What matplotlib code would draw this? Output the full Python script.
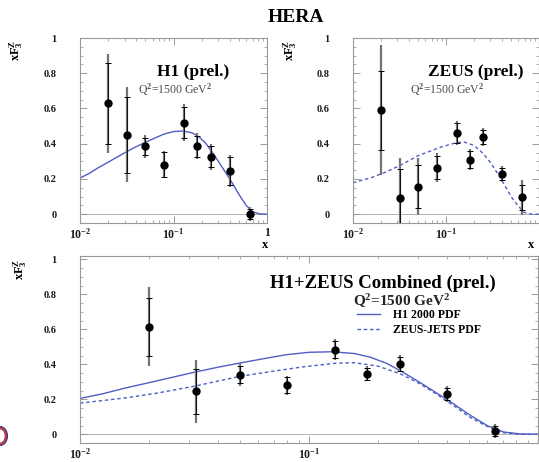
"""
HERA xF3 structure function at Q^2 = 1500 GeV^2: H1, ZEUS and combined
"""

import numpy as np
import matplotlib
matplotlib.use('Agg')
import matplotlib.pyplot as plt
from matplotlib.ticker import MultipleLocator, LogLocator, NullFormatter
from matplotlib.patches import Ellipse

# Bjorken-x bins shared by all three data sets
x_bins = [0.02, 0.032, 0.05, 0.08, 0.13, 0.18, 0.25, 0.40, 0.65]

h1_val = [0.63, 0.45, 0.385, 0.282, 0.52, 0.386, 0.326, 0.244, 0.0]
h1_stat = [0.23, 0.215, 0.05, 0.07, 0.09, 0.06, 0.06, 0.08, 0.03]
h1_tot = [0.28, 0.27, 0.065, 0.078, 0.105, 0.075, 0.075, 0.09, 0.04]

zeus_val = [0.59, 0.09, 0.157, 0.265, 0.46, 0.31, 0.439, 0.227, 0.095]
zeus_stat = [0.225, 0.165, 0.12, 0.066, 0.055, 0.05, 0.04, 0.035, 0.07]
zeus_tot = [0.37, 0.23, 0.16, 0.085, 0.07, 0.06, 0.05, 0.047, 0.1]

comb_val = [0.615, 0.246, 0.341, 0.28, 0.484, 0.347, 0.404, 0.232, 0.019]
comb_stat = [0.165, 0.13, 0.05, 0.045, 0.05, 0.035, 0.04, 0.035, 0.03]
comb_tot = [0.225, 0.18, 0.066, 0.054, 0.06, 0.045, 0.048, 0.045, 0.038]

# PDF predictions
h1_pdf_x = [0.01, 0.0126, 0.0158, 0.020, 0.0251, 0.0316, 0.0398, 0.0501,
            0.0631, 0.0794, 0.100, 0.126, 0.158, 0.186, 0.219, 0.257,
            0.302, 0.363, 0.427, 0.501, 0.603, 0.708, 0.832, 1.0]
h1_pdf_y = [0.205, 0.232, 0.265, 0.295, 0.325, 0.355, 0.383, 0.408,
            0.432, 0.455, 0.469, 0.472, 0.462, 0.440, 0.405, 0.355,
            0.300, 0.234, 0.175, 0.112, 0.048, 0.013, 0.002, 0.0]

zeus_pdf_x = [0.01, 0.0158, 0.0214, 0.0316, 0.0501, 0.0708, 0.0933, 0.132,
              0.158, 0.200, 0.251, 0.302, 0.355, 0.427, 0.501, 0.589,
              0.692, 0.832, 1.0]
zeus_pdf_y = [0.178, 0.208, 0.234, 0.275, 0.332, 0.362, 0.385, 0.407,
              0.409, 0.390, 0.345, 0.292, 0.235, 0.165, 0.100, 0.050,
              0.010, 0.0, 0.0]

y_ticks = [0, 0.2, 0.4, 0.6, 0.8, 1]
y_tick_labels = ['0', '0.2', '0.4', '0.6', '0.8', '1']
x_ticks = [0.01, 0.1, 1]
x_tick_labels = [r'10$^{-2}$', r'10$^{-1}$', '1']

BLUE = '#4f5fc4'

plt.rcParams['font.family'] = 'Liberation Serif'
plt.rcParams['font.weight'] = 'bold'
plt.rcParams['mathtext.fontset'] = 'custom'
plt.rcParams['mathtext.rm'] = 'Liberation Serif:bold'
plt.rcParams['mathtext.bf'] = 'Liberation Serif:bold'
plt.rcParams['mathtext.it'] = 'Liberation Serif:italic:bold'

W, H = 539, 462


def px_axes(fig, left, top, right, bottom):
    return fig.add_axes([left / W, 1 - bottom / H, (right - left) / W, (bottom - top) / H])


def style(ax, ytop, xlabels):
    ax.set_xscale('log')
    ax.set_xlim(0.01, 1)
    ax.set_ylim(-0.05, ytop)
    ax.set_xticks(x_ticks)
    ax.set_xticklabels(xlabels)
    ax.xaxis.set_minor_locator(LogLocator(subs=np.arange(2, 10)))
    ax.xaxis.set_minor_formatter(NullFormatter())
    ax.set_yticks(y_ticks)
    ax.set_yticklabels(y_tick_labels)
    ax.yaxis.set_minor_locator(MultipleLocator(0.05))
    ax.tick_params(which='both', direction='in', top=True, right=True,
                   color='0.55', labelcolor='0.1', labelsize=7.5)
    ax.tick_params(axis='x', labelsize=8.5, pad=3)
    ax.tick_params(which='major', length=5, width=0.6)
    ax.tick_params(which='minor', length=2.5, width=0.5)
    ax.tick_params(axis='y', pad=17)
    for s in ax.spines.values():
        s.set_color('0.6')
        s.set_linewidth(0.8)
    ax.axhline(0, color='0.65', lw=0.6, zorder=1)


def points(ax, val, stat, tot):
    ax.errorbar(x_bins, val, yerr=tot, fmt='none', ecolor='0.45',
                elinewidth=1.6, capsize=0, zorder=3)
    ax.errorbar(x_bins, val, yerr=stat, fmt='o', color='black', ms=5,
                elinewidth=0.6, capsize=2.5, capthick=0.7, zorder=4)


fig = plt.figure(figsize=(W / 100, H / 100), dpi=100)

# H1 panel
ax1 = px_axes(fig, 80, 38, 267, 223)
style(ax1, 1.0, x_tick_labels)
ax1.plot(h1_pdf_x, h1_pdf_y, color=BLUE, lw=1.0, zorder=2)
points(ax1, h1_val, h1_stat, h1_tot)
ax1.text(0.41, 0.816, 'H1 (prel.)', transform=ax1.transAxes, fontsize=12.5, va='center')
ax1.text(0.31, 0.719, r'Q$^{2}$=1500 GeV$^{2}$', transform=ax1.transAxes,
         fontsize=8.5, va='center', color='0.3', fontweight='normal')

# ZEUS panel (its right border and last label fall at the picture edge)
ax2 = px_axes(fig, 353, 38, 539, 223)
style(ax2, 1.0, x_tick_labels[:2] + [''])
ax2.plot(zeus_pdf_x, zeus_pdf_y, color=BLUE, lw=1.0, ls=(0, (2.5, 2)), zorder=2)
points(ax2, zeus_val, zeus_stat, zeus_tot)
ax2.text(0.403, 0.816, 'ZEUS (prel.)', transform=ax2.transAxes, fontsize=12.5, va='center')
ax2.text(0.306, 0.719, r'Q$^{2}$=1500 GeV$^{2}$', transform=ax2.transAxes,
         fontsize=8.5, va='center', color='0.3', fontweight='normal')

# combined panel
ax3 = px_axes(fig, 80, 256, 538, 443)
style(ax3, 1.02, x_tick_labels[:2] + [''])
ax3.plot(h1_pdf_x, h1_pdf_y, color=BLUE, lw=1.0, zorder=2, label='H1 2000 PDF')
ax3.plot(zeus_pdf_x, zeus_pdf_y, color=BLUE, lw=1.0, ls=(0, (2.5, 2)), zorder=2,
         label='ZEUS-JETS PDF')
points(ax3, comb_val, comb_stat, comb_tot)
ax3.text(0.415, 0.856, 'H1+ZEUS Combined (prel.)', transform=ax3.transAxes,
         fontsize=13.5, va='center')
ax3.text(0.596, 0.759, r'Q$^{2}$=1500 GeV$^{2}$', transform=ax3.transAxes,
         fontsize=11, va='center', color='0.15')
ax3.legend(loc='upper left', bbox_to_anchor=(0.605, 0.715), frameon=False,
           fontsize=8.5, handlelength=1.9, handletextpad=1.1, borderpad=0,
           borderaxespad=0, labelspacing=0.2)

fig.text(296 / W, 1 - 18 / H, 'HERA', ha='center', va='center', fontsize=14)
for xp, yp in [(16, 50), (290, 50), (20, 269)]:
    fig.text(xp / W, 1 - yp / H, r'$\mathrm{xF_{3}^{Z}}$', rotation=90,
             ha='center', va='center', fontsize=9)
for xp in [265, 531]:
    fig.text(xp / W, 1 - 245 / H, 'x', ha='center', va='center', fontsize=9)

# fragment of a logo at the left border
fig.patches.append(Ellipse((0, 1 - 436 / H), 12 / W, 16 / H, transform=fig.transFigure,
                           facecolor='white', edgecolor='#c23848', lw=2.0))
fig.patches.append(Ellipse((0, 1 - 436 / H), 15 / W, 19 / H, transform=fig.transFigure,
                           facecolor='none', edgecolor='#2c3f8f', lw=0.8))

fig.savefig('out.png', dpi=100)
